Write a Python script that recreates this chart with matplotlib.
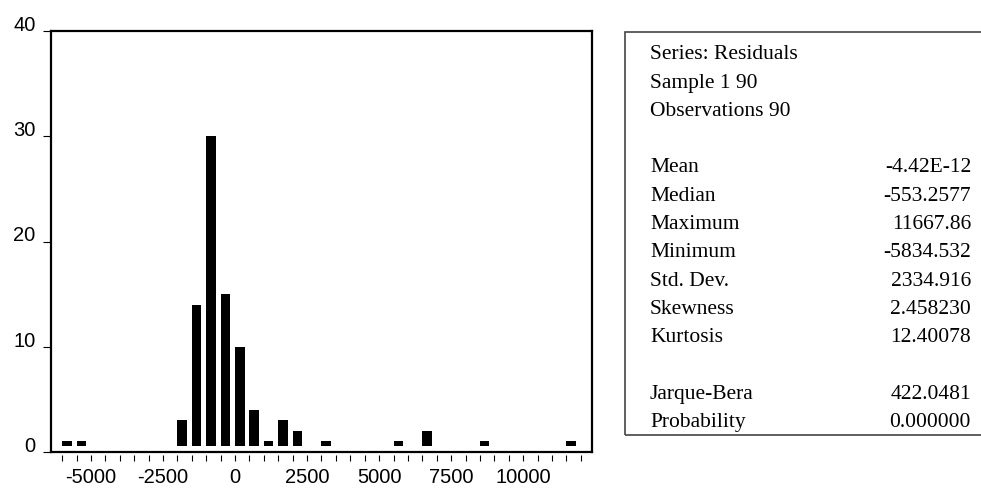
import matplotlib
matplotlib.use('Agg')
import matplotlib.pyplot as plt
from matplotlib.patches import Rectangle

plt.rcParams['axes.unicode_minus'] = False

# histogram of residuals, bins of width 500
bin_starts = [-6000, -5500, -2000, -1500, -1000, -500, 0, 500, 1000,
              1500, 2000, 3000, 5500, 6500, 8500, 11500]
counts = [1, 1, 3, 14, 30, 15, 10, 4, 1, 3, 2, 1, 1, 2, 1, 1]

xtick_major = [-5000, -2500, 0, 2500, 5000, 7500, 10000]
ytick_vals = [0, 10, 20, 30, 40]

stat_names = ['Series: Residuals', 'Sample 1 90', 'Observations 90', '',
              'Mean', 'Median', 'Maximum', 'Minimum', 'Std. Dev.',
              'Skewness', 'Kurtosis', '', 'Jarque-Bera', 'Probability']
stat_values = ['', '', '', '',
               '-4.42E-12', '-553.2577', '11667.86', '-5834.532', '2334.916',
               '2.458230', '12.40078', '', '422.0481', '0.000000']

W, H = 981, 491
fig = plt.figure(figsize=(W / 100, H / 100), dpi=100)

# histogram panel
ax = fig.add_axes([50.7 / W, 1 - 452 / H, (591.7 - 50.7) / W, (452 - 31) / H])
bar_bottom = 0.55
ax.bar(bin_starts, [c - bar_bottom for c in counts], bottom=bar_bottom,
       width=330, align='edge', color='black', linewidth=0)
ax.set_xlim(-6400, 12380)
ax.set_ylim(0, 40)

ax.set_xticks(xtick_major)
ax.set_xticklabels([str(v) for v in xtick_major])
ax.set_xticks(range(-6000, 12001, 500), minor=True)
ax.set_yticks(ytick_vals)
ax.set_yticklabels([str(v) for v in ytick_vals], va='baseline')

for s in ['top', 'left', 'right']:
    ax.spines[s].set_linewidth(1.6)
ax.spines['bottom'].set_position(('outward', 2.2))
ax.spines['bottom'].set_visible(False)
ax.axhline(0, color='black', linewidth=1.6, clip_on=False)

ax.tick_params(axis='x', which='both', direction='out', length=4.5,
               width=0.8, pad=5)
ax.tick_params(axis='y', direction='out', length=6, width=0.8, pad=5)
ax.tick_params(axis='both', labelsize=14.5, labelfontfamily='Liberation Sans')

# statistics box
box = Rectangle((625 / W, 1 - 435 / H), (W + 20 - 625) / W, (435 - 32) / H,
                transform=fig.transFigure, fill=False, edgecolor='#444444',
                linewidth=1.2)
fig.patches.append(box)

for i, (name, val) in enumerate(zip(stat_names, stat_values)):
    y = 1 - (59.3 + 28.3 * i) / H
    fig.text(650 / W, y, name, ha='left', va='baseline',
             fontfamily='Liberation Serif', fontsize=15.5)
    fig.text(971 / W, y, val, ha='right', va='baseline',
             fontfamily='Liberation Serif', fontsize=15.5)

fig.savefig('out.png', dpi=100)
